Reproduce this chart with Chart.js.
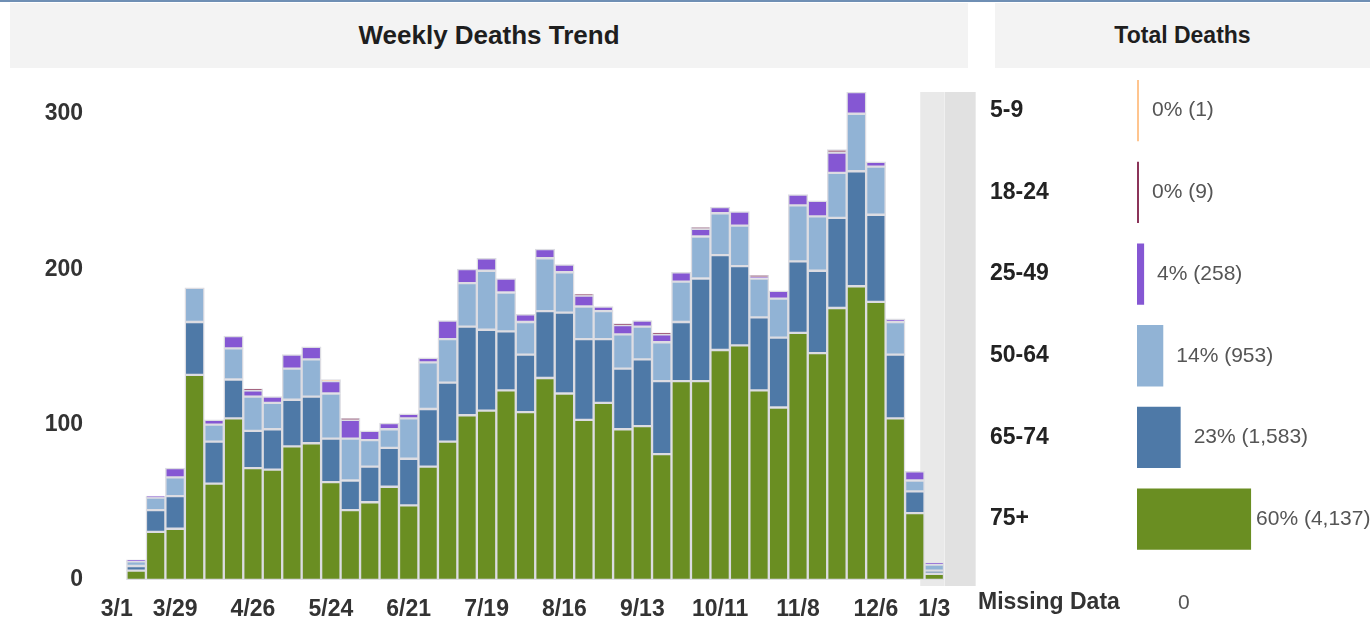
<!DOCTYPE html>
<html>
<head>
<meta charset="utf-8">
<script src="https://cdn.jsdelivr.net/npm/chart.js@4.4.1/dist/chart.umd.min.js"></script>
<style>
html,body{margin:0;padding:0;background:#fff;width:1370px;height:620px;overflow:hidden;font-family:"Liberation Sans",Arial,sans-serif;}
#topline{position:absolute;left:0;top:0;width:1370px;height:2px;background:#6f8fb4;z-index:3;}
.panel{position:absolute;top:3px;height:65px;background:#f3f3f3;display:flex;align-items:center;justify-content:center;font-weight:bold;color:#1e1e1e;z-index:2;}
#p1{left:10px;width:958px;font-size:26px;}
#p2{left:995px;width:375px;font-size:23px;}
#c1wrap{position:absolute;left:0;top:0;width:985px;height:620px;}
#c2wrap{position:absolute;left:978px;top:53px;width:392px;height:567px;}
#missing{position:absolute;left:978px;top:587px;font-size:23px;font-weight:bold;color:#333;line-height:28px;}
#missingVal{position:absolute;left:1178px;top:588px;font-size:21px;color:#555;line-height:28px;}
</style>
</head>
<body>
<div id="topline"></div>
<div class="panel" id="p1">Weekly Deaths Trend</div>
<div class="panel" id="p2">Total Deaths</div>
<div id="c1wrap"><canvas id="weekly"></canvas></div>
<div id="c2wrap"><canvas id="totals"></canvas></div>
<div id="missing">Missing Data</div>
<div id="missingVal">0</div>
<script>
// ---- data ----
const weeks = ['3/8','3/15','3/22','3/29','4/5','4/12','4/19','4/26','5/3','5/10','5/17','5/24','5/31','6/7','6/14','6/21','6/28','7/5','7/12','7/19','7/26','8/2','8/9','8/16','8/23','8/30','9/6','9/13','9/20','9/27','10/4','10/11','10/18','10/25','11/1','11/8','11/15','11/22','11/29','12/6','12/13','12/20','12/27'];
const tickIndex  = [0,3,7,11,15,19,23,27,31,35,39,42];
const tickLabels = ['3/1','3/29','4/26','5/24','6/21','7/19','8/16','9/13','10/11','11/8','12/6','1/3'];
const yTickValues = [0,100,200,300];

const age75   = [0,6,31,33,132,62,104,72,71,86,88,63,45,50,60,48,73,89,106,109,122,108,130,120,103,114,97,99,81,128,128,148,151,122,111,159,146,175,189,179,104,43,4];
const age65_74= [0,3,14,21,34,27,25,24,26,30,30,28,19,23,25,30,37,38,57,52,38,37,43,52,52,41,39,43,47,38,66,61,51,47,45,46,53,58,74,56,41,14,2];
const age50_64= [0,3,8,12,22,11,20,22,17,20,24,29,27,17,12,26,30,28,28,38,25,21,34,26,21,18,22,21,25,26,27,27,26,25,25,36,35,29,37,31,21,7,4];
const age25_49= [0,1,1,6,0,3,8,4,4,9,8,8,12,6,4,3,3,12,9,8,9,5,6,5,7,3,6,4,5,6,5,4,9,1,5,7,10,13,14,3,2,6,1];
const age18_24= [0,0,0,0,0,0,0,1,0,0,0,0,1,0,0,0,0,0,0,0,0,0,0,0,1,0,1,0,1,0,1,0,0,1,0,0,0,2,0,0,0,0,0];
const age5_9  = [0,0,0,0,0,0,0,0,0,0,0,1,0,0,0,0,0,0,0,0,0,0,0,0,0,0,0,0,0,0,0,0,0,0,0,0,0,0,0,0,0,0,0];

const ageGroups   = ['5-9','18-24','25-49','50-64','65-74','75+'];
const totalDeaths = [1,9,258,953,1583,4137];

// ---- styles ----
const FONT = '"Liberation Sans", Arial, sans-serif';
const COL = {a5:'#ffc58f', a18:'#8b3459', a25:'#8557d3', a50:'#91b3d5', a65:'#4e79a7', a75:'#6a8e22'};

const series = [
  {label:'75+',   data:age75,    backgroundColor:COL.a75},
  {label:'65-74', data:age65_74, backgroundColor:COL.a65},
  {label:'50-64', data:age50_64, backgroundColor:COL.a50},
  {label:'25-49', data:age25_49, backgroundColor:COL.a25},
  {label:'18-24', data:age18_24, backgroundColor:COL.a18},
  {label:'5-9',   data:age5_9,   backgroundColor:COL.a5}
];
const stackTotals = weeks.map((_,i)=>series.reduce((s,d)=>s+d.data[i],0));
const yMax = Math.max(...stackTotals);

const shadePlugin = {
  id:'shade',
  beforeDatasetsDraw(chart){
    const {ctx, chartArea, scales:{x}} = chart;
    const step = x.getPixelForValue(1) - x.getPixelForValue(0);
    const last = x.getPixelForValue(weeks.length-1);
    const l = last - 0.72*step;
    const h = chartArea.bottom - chartArea.top + 6;
    ctx.save();
    ctx.fillStyle = '#e9e9e9';
    ctx.fillRect(l, chartArea.top, chartArea.right - l, h);
    ctx.fillStyle = '#e1e1e1';
    ctx.fillRect(chartArea.right + 0.5, chartArea.top, 1.6*step, h);
    ctx.restore();
  }
};

new Chart(document.getElementById('weekly'), {
  type:'bar',
  data:{labels:weeks, datasets:series.map(s=>Object.assign({}, s, {
    borderColor:'#dcdce2', borderWidth:1.5, borderSkipped:false,
    barPercentage:1, categoryPercentage:1
  }))},
  options:{
    responsive:true, maintainAspectRatio:false, animation:false,
    layout:{padding:{top:92,left:0,right:41,bottom:0}},
    plugins:{legend:{display:false}, tooltip:{enabled:false}},
    scales:{
      x:{stacked:true, grid:{display:false, drawTicks:false}, border:{display:false},
         ticks:{autoSkip:false, maxRotation:0, minRotation:0, padding:16, color:'#333',
                font:{size:23, weight:'bold', family:FONT},
                callback:(v,i)=>{const k=tickIndex.indexOf(i); return k>=0?tickLabels[k]:'';}},
         afterFit:(s)=>{s.height=40;}},
      y:{stacked:true, min:0, max:yMax, grid:{display:false, drawTicks:false}, border:{display:false},
         ticks:{padding:24, color:'#333', font:{size:23, weight:'bold', family:FONT}},
         afterBuildTicks:(s)=>{s.ticks = yTickValues.map(v=>({value:v}));},
         afterFit:(s)=>{s.width=107;}}
    }
  },
  plugins:[shadePlugin]
});

const grand = totalDeaths.reduce((a,b)=>a+b,0);
const valueLabelPlugin = {
  id:'vlabels',
  afterDatasetsDraw(chart){
    const {ctx} = chart;
    const meta = chart.getDatasetMeta(0);
    ctx.save();
    ctx.font = '21px ' + FONT;
    ctx.fillStyle = '#555';
    ctx.textBaseline = 'middle';
    ctx.textAlign = 'left';
    meta.data.forEach((bar,i)=>{
      const v = totalDeaths[i];
      const txt = Math.round(v/grand*100) + '% (' + v.toLocaleString('en-US') + ')';
      const w = ctx.measureText(txt).width;
      let x = bar.x + 13;
      if (x + w > chart.width) x = bar.x + 5;
      ctx.fillText(txt, x, bar.y);
    });
    ctx.restore();
  }
};

new Chart(document.getElementById('totals'), {
  type:'bar',
  data:{labels:ageGroups, datasets:[{
    data:totalDeaths,
    backgroundColor:[COL.a5, COL.a18, COL.a25, COL.a50, COL.a65, COL.a75],
    borderWidth:0, barPercentage:0.75, categoryPercentage:1, minBarLength:2
  }]},
  options:{
    indexAxis:'y', responsive:true, maintainAspectRatio:false, animation:false,
    layout:{padding:{left:12, top:0, right:0, bottom:60}},
    plugins:{legend:{display:false}, tooltip:{enabled:false}},
    scales:{
      x:{display:false, min:0, max:8450},
      y:{grid:{display:false, drawTicks:false}, border:{display:false},
         ticks:{crossAlign:'far', color:'#222', font:{size:23, weight:'bold', family:FONT}},
         afterFit:(s)=>{s.width=147;}}
    }
  },
  plugins:[valueLabelPlugin]
});
</script>
</body>
</html>
